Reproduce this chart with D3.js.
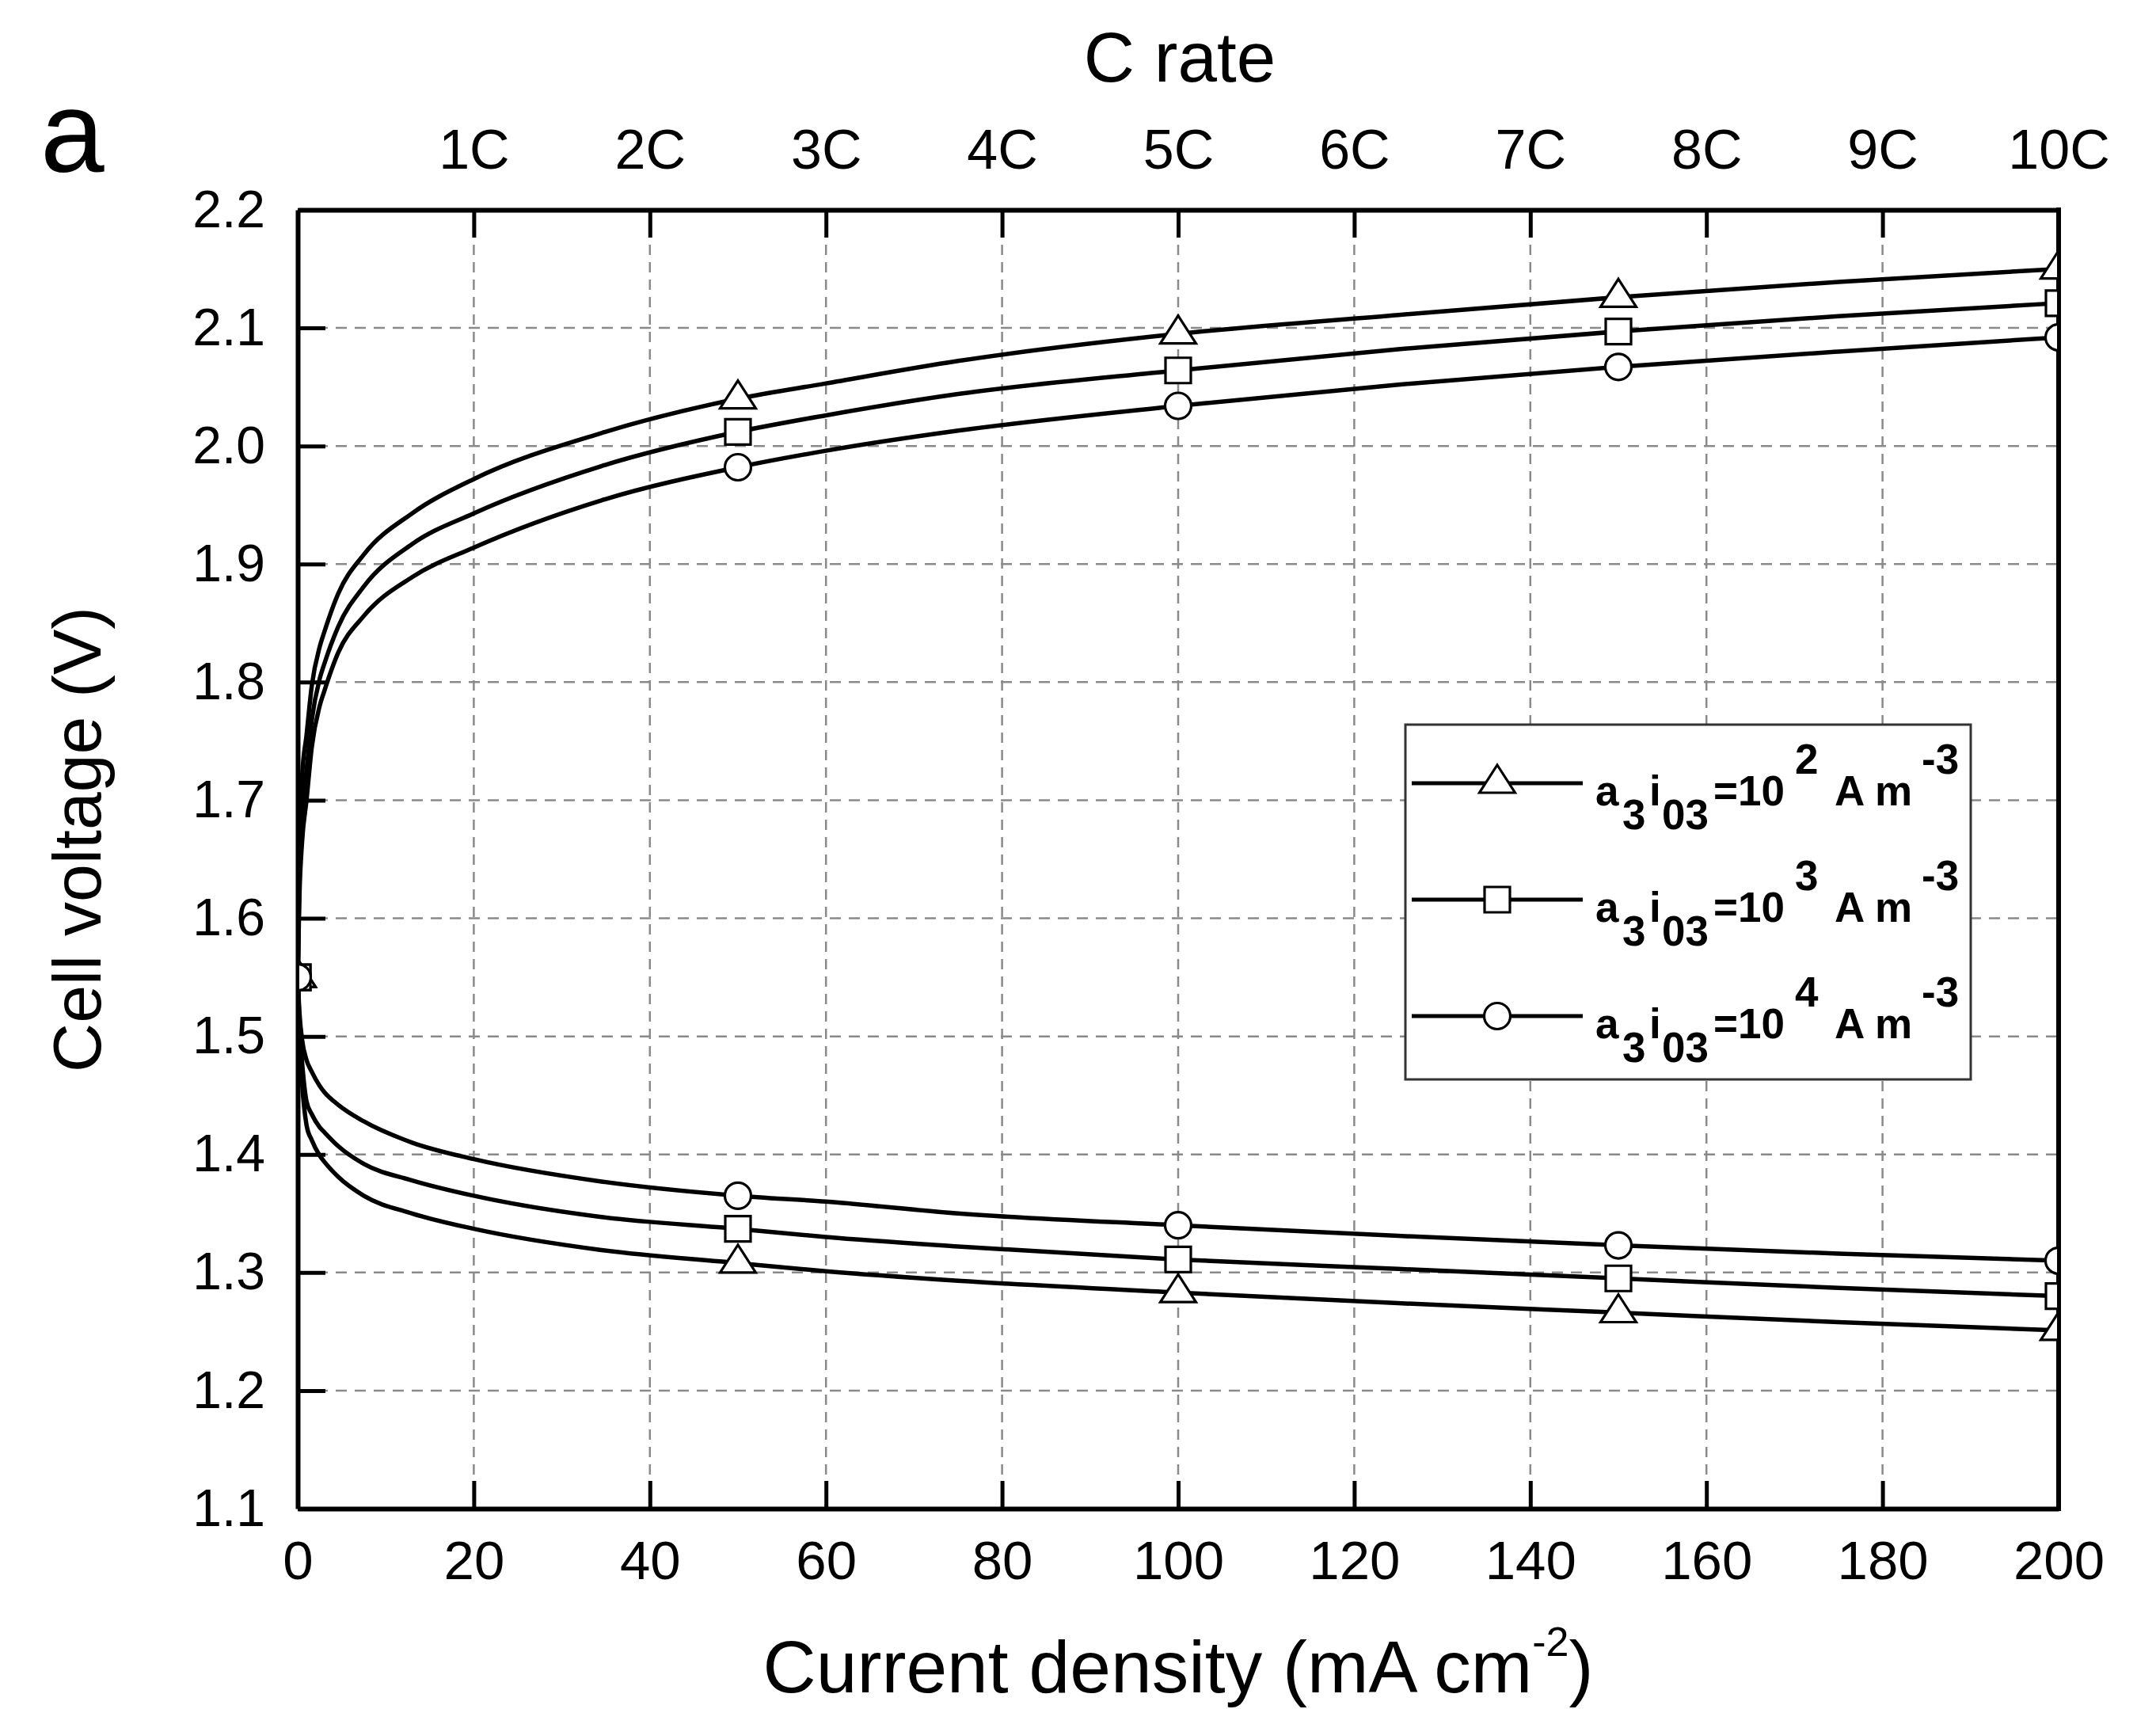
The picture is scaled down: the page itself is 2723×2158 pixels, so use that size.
<!DOCTYPE html>
<html>
<head>
<meta charset="utf-8">
<script src="https://cdn.jsdelivr.net/npm/d3@7"></script>
<style>
  html, body { margin: 0; padding: 0; background: #fff; }
  svg { display: block; font-family: "Liberation Sans", Arial, sans-serif; }
</style>
</head>
<body>
<svg id="chart" width="2723" height="2158"></svg>
<script>
// ---------------- DATA ----------------
const currentDensity = [0, 0.2, 0.5, 1, 1.6, 2.5, 3, 4.6, 7.5, 13, 20, 34.5, 50, 60, 75, 100, 125, 150, 175, 200];

// charge curves (upper branch)
const chargeE2 = [1.55, 1.66, 1.72, 1.755, 1.797, 1.830, 1.842, 1.875, 1.908, 1.943, 1.972, 2.011, 2.040, 2.053, 2.072, 2.095, 2.111, 2.126, 2.139, 2.150];
const chargeE3 = [1.55, 1.64, 1.69, 1.725, 1.768, 1.803, 1.815, 1.847, 1.881, 1.917, 1.943, 1.983, 2.012, 2.026, 2.044, 2.064, 2.082, 2.097, 2.110, 2.121];
const chargeE4 = [1.55, 1.62, 1.665, 1.700, 1.745, 1.780, 1.792, 1.825, 1.856, 1.889, 1.914, 1.954, 1.982, 1.996, 2.013, 2.034, 2.052, 2.067, 2.080, 2.092];

// discharge curves (lower branch)
const dischargeE2 = [1.55, 1.50, 1.46, 1.425, 1.412, 1.399, 1.394, 1.381, 1.365, 1.350, 1.337, 1.319, 1.308, 1.301, 1.293, 1.283, 1.274, 1.266, 1.258, 1.251];
const dischargeE3 = [1.55, 1.51, 1.478, 1.445, 1.434, 1.423, 1.419, 1.407, 1.392, 1.378, 1.365, 1.347, 1.337, 1.330, 1.322, 1.311, 1.303, 1.295, 1.287, 1.280];
const dischargeE4 = [1.55, 1.52, 1.497, 1.480, 1.470, 1.458, 1.453, 1.442, 1.428, 1.410, 1.396, 1.377, 1.365, 1.360, 1.350, 1.340, 1.331, 1.323, 1.316, 1.310];

const markerX = [0, 50, 100, 150, 200];

const xTicks = [0, 20, 40, 60, 80, 100, 120, 140, 160, 180, 200];
const yTicks = [1.1, 1.2, 1.3, 1.4, 1.5, 1.6, 1.7, 1.8, 1.9, 2.0, 2.1, 2.2];
const cRateTicks = [1, 2, 3, 4, 5, 6, 7, 8, 9, 10];

const seriesSymbols = ["triangle", "square", "circle"];
const legendExponents = ["2", "3", "4"];

// ---------------- LAYOUT ----------------
const X0 = 376, X1 = 2600, Y0 = 265, Y1 = 1905;
const svg = d3.select("#chart");

const x = d3.scaleLinear().domain([0, 200]).range([X0, X1]);
const y = d3.scaleLinear().domain([1.1, 2.2]).range([Y1, Y0]);
const xC = d3.scaleLinear().domain([0, 10]).range([X0, X1]);

svg.append("rect").attr("width", 2723).attr("height", 2158).attr("fill", "#fff");

const defs = svg.append("defs");
defs.append("clipPath").attr("id", "plotclip").append("rect")
  .attr("x", X0).attr("y", Y0).attr("width", X1 - X0).attr("height", Y1 - Y0);
defs.append("clipPath").attr("id", "markclip").append("rect")
  .attr("x", X0 + 2).attr("y", Y0).attr("width", X1 - X0 - 4).attr("height", Y1 - Y0);

// grid
const grid = svg.append("g");
grid.selectAll("line.vx").data(xTicks.filter(d => d > 0 && d < 200)).enter().append("line")
  .attr("x1", d => x(d)).attr("x2", d => x(d)).attr("y1", Y0).attr("y2", Y1)
  .attr("stroke", "#8a8a8a").attr("stroke-width", 2.5).attr("stroke-dasharray", "13,9");
grid.selectAll("line.hy").data(yTicks.filter(d => d > 1.15 && d < 2.15)).enter().append("line")
  .attr("y1", d => y(d)).attr("y2", d => y(d)).attr("x1", X0).attr("x2", X1)
  .attr("stroke", "#8a8a8a").attr("stroke-width", 2.5).attr("stroke-dasharray", "14,10");

// curves
const allSeries = [
  { vals: chargeE2, sym: "triangle" },
  { vals: chargeE3, sym: "square" },
  { vals: chargeE4, sym: "circle" },
  { vals: dischargeE2, sym: "triangle" },
  { vals: dischargeE3, sym: "square" },
  { vals: dischargeE4, sym: "circle" }
];
const line = d3.line().x(d => x(d[0])).y(d => y(d[1])).curve(d3.curveMonotoneX);
const curves = svg.append("g").attr("clip-path", "url(#plotclip)");
allSeries.forEach(s => {
  curves.append("path")
    .datum(currentDensity.map((c, i) => [c, s.vals[i]]))
    .attr("d", line).attr("fill", "none").attr("stroke", "#000").attr("stroke-width", 5.5)
    .attr("stroke-linejoin", "round");
});

// axes
const fmt = d3.format(".1f");
const axB = svg.append("g").attr("transform", `translate(0,${Y1})`)
  .call(d3.axisBottom(x).tickValues(xTicks).tickSizeInner(-35).tickSizeOuter(0).tickPadding(40).tickFormat(d3.format("d")));
const axL = svg.append("g").attr("transform", `translate(${X0},0)`)
  .call(d3.axisLeft(y).tickValues(yTicks).tickSizeInner(-35).tickSizeOuter(0).tickPadding(41).tickFormat(fmt));
const axT = svg.append("g").attr("transform", `translate(0,${Y0})`)
  .call(d3.axisTop(xC).tickValues(cRateTicks).tickSizeInner(-35).tickSizeOuter(0).tickPadding(52).tickFormat(d => d + "C"));
axT.selectAll("text").attr("dy", "0");
[axB, axL, axT].forEach(a => {
  a.select(".domain").attr("stroke", "#000").attr("stroke-width", 6);
  a.selectAll(".tick line").attr("stroke", "#000").attr("stroke-width", 5);
  a.selectAll("text").attr("fill", "#000").attr("font-family", "'Liberation Sans', Arial, sans-serif");
});
axB.selectAll("text").attr("font-size", 69);
axL.selectAll("text").attr("font-size", 66);
axT.selectAll("text").attr("font-size", 70);
svg.append("line").attr("x1", X1).attr("x2", X1).attr("y1", Y0 - 3).attr("y2", Y1 + 3)
  .attr("stroke", "#000").attr("stroke-width", 6);

// markers
function symbolPath(sym) {
  if (sym === "triangle") return "M0,-23L22.5,12L-22.5,12Z";
  if (sym === "square") return "M-16,-16H16V16H-16Z";
  return "M16.5,0A16.5,16.5 0 1,1 -16.5,0A16.5,16.5 0 1,1 16.5,0Z";
}
const marks = svg.append("g").attr("clip-path", "url(#markclip)");
allSeries.forEach(s => {
  markerX.forEach(mx => {
    const i = currentDensity.indexOf(mx);
    marks.append("path").attr("d", symbolPath(s.sym))
      .attr("transform", `translate(${x(mx)},${y(s.vals[i])})`)
      .attr("fill", "#fff").attr("stroke", "#000").attr("stroke-width", 3.2);
  });
});

// legend
const lg = svg.append("g");
lg.append("rect").attr("x", 1775).attr("y", 915).attr("width", 714).attr("height", 448)
  .attr("fill", "#fff").attr("stroke", "#333").attr("stroke-width", 3);
const rowY = [989, 1136, 1283];
seriesSymbols.forEach((sym, k) => {
  const ly = rowY[k];
  lg.append("line").attr("x1", 1783).attr("x2", 1999).attr("y1", ly).attr("y2", ly)
    .attr("stroke", "#000").attr("stroke-width", 5);
  lg.append("path").attr("d", symbolPath(sym)).attr("transform", `translate(1891,${ly})`)
    .attr("fill", "#fff").attr("stroke", "#000").attr("stroke-width", 3.2);
  const bx = 2015, by = ly + 28;
  const t = lg.append("text").attr("font-size", 53).attr("font-weight", "bold").attr("fill", "#000");
  t.append("tspan").attr("x", bx).attr("y", by).text("a");
  t.append("tspan").attr("x", bx + 34).attr("y", by + 30).text("3");
  t.append("tspan").attr("x", bx + 68).attr("y", by).text("i");
  t.append("tspan").attr("x", bx + 84).attr("y", by + 30).text("03");
  t.append("tspan").attr("x", bx + 149).attr("y", by).text("=10");
  t.append("tspan").attr("x", bx + 252).attr("y", by - 40).text(legendExponents[k]);
  t.append("tspan").attr("x", bx + 302).attr("y", by).text("A m");
  t.append("tspan").attr("x", bx + 412).attr("y", by - 40).text("-3");
});

// titles
svg.append("text").attr("x", 1490).attr("y", 103).attr("text-anchor", "middle")
  .attr("font-size", 89).text("C rate");
svg.append("text").attr("transform", "translate(127,1060) rotate(-90)").attr("text-anchor", "middle")
  .attr("font-size", 86).text("Cell voltage (V)");
const xt = svg.append("text").attr("x", 1488).attr("y", 2137).attr("text-anchor", "middle").attr("font-size", 93);
xt.append("tspan").text("Current density (mA cm");
xt.append("tspan").attr("font-size", 52).attr("dy", -46).text("-2");
xt.append("tspan").attr("dy", 46).text(")");
svg.append("text").attr("x", 51).attr("y", 217).attr("font-size", 145).text("a");
</script>
</body>
</html>
